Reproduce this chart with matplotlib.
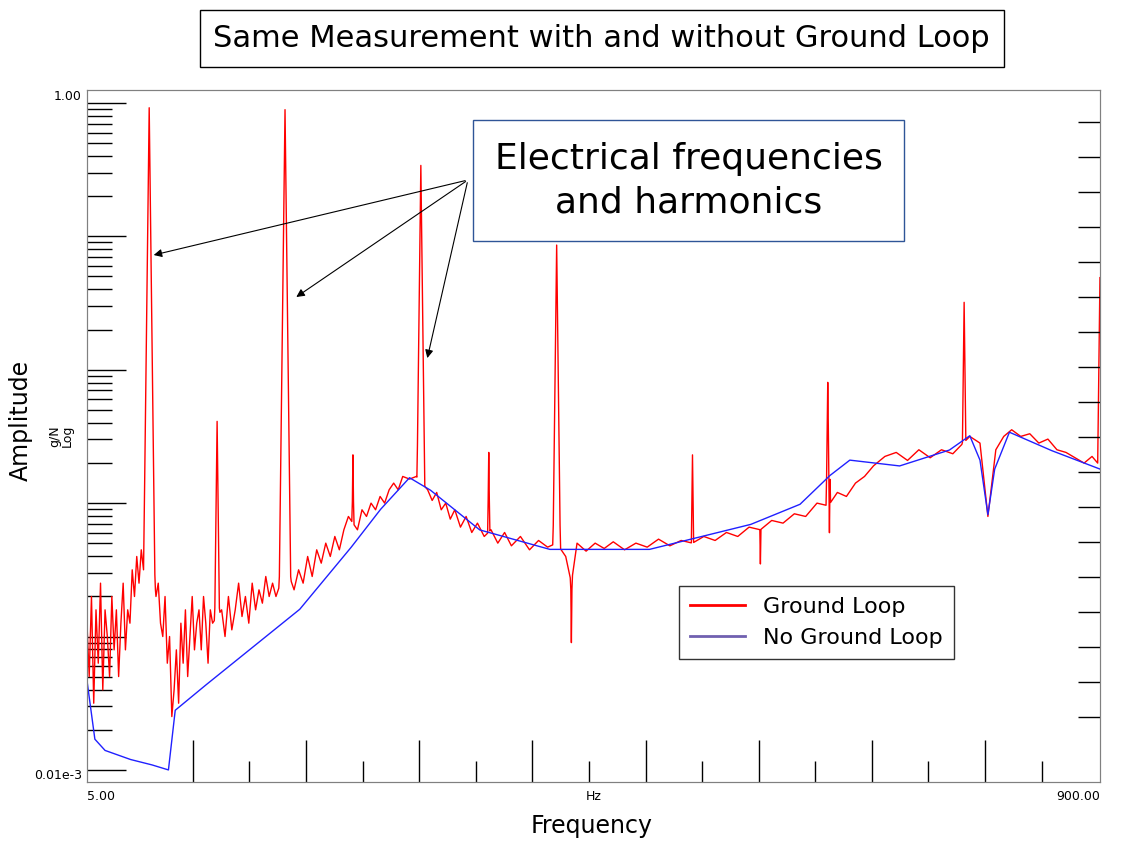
import numpy as np
import matplotlib
matplotlib.use("Agg")
import matplotlib.pyplot as plt
from matplotlib.ticker import NullFormatter, FixedLocator

# --- data (Hz, amplitude g/N) ---
blue_f = [5, 12, 21, 43, 61, 77, 83, 105, 149, 193, 237, 264, 290, 308, 352, 414, 502, 591, 635, 661, 679, 723, 767, 785, 794, 801, 807, 820, 856, 900]
blue_a = [4.7e-5, 1.7e-5, 1.4e-5, 1.2e-5, 1.1e-5, 1.0e-5, 2.8e-5, 4.0e-5, 8.0e-5, 1.6e-4, 4.5e-4, 8.9e-4, 1.55e-3, 1.26e-3, 6.3e-4, 4.5e-4, 4.5e-4, 6.9e-4, 9.8e-4, 1.6e-3, 2.1e-3, 1.9e-3, 2.5e-3, 3.2e-3, 2.1e-3, 8.2e-4, 1.8e-3, 3.4e-3, 2.5e-3, 1.8e-3]

red_f = [5, 7, 9, 11, 13, 15, 17, 19, 21, 23, 25, 27, 29, 31, 33, 35, 37, 39, 41, 43, 45, 47, 49, 51, 53, 55, 57, 64, 66, 68, 70, 72, 74, 76, 78, 80, 82, 84, 86, 88, 90, 92, 94, 96, 98, 100, 102, 104, 106, 108, 110, 112, 114, 116, 124, 127, 130, 133, 136, 139, 142, 145, 148, 151, 154, 157, 160, 163, 166, 169, 172, 176, 184, 188, 192, 196, 200, 204, 208, 212, 216, 220, 224, 228, 232, 236, 244, 248, 252, 256, 260, 264, 268, 272, 276, 280, 284, 290, 296, 306, 310, 314, 318, 322, 326, 330, 335, 340, 345, 350, 356, 362, 368, 374, 380, 388, 396, 404, 412, 420, 428, 433, 438, 446, 454, 462, 470, 480, 490, 500, 510, 520, 530, 540, 550, 560, 570, 580, 590, 600, 610, 620, 630, 640, 650, 660, 668, 676, 684, 692, 700, 710, 720, 730, 740, 750, 760, 770, 778, 785, 794, 801, 808, 815, 822, 830, 838, 846, 854, 862, 870, 878, 886, 893, 900]
red_log = [-3.9, -4.3, -3.7, -4.5, -3.8, -4.2, -3.6, -4.4, -3.8, -4.0,
           -4.3, -3.7, -4.1, -3.8, -4.3, -3.9, -3.6, -4.1, -3.8, -3.9,
           -3.5, -3.7, -3.4, -3.6, -3.35, -3.5, -3.4,
           -3.5, -3.7, -3.6, -3.9, -4.0, -3.7, -4.2, -4.0, -4.6, -4.4,
           -4.1, -4.5, -3.9, -4.2, -3.8, -4.3, -4.0, -3.7, -4.1, -3.9,
           -3.8, -4.1, -3.7, -3.9, -4.2, -3.8, -3.9,
           -3.8, -4.0, -3.7, -3.95, -3.8, -3.6, -3.85, -3.7, -3.9, -3.6,
           -3.8, -3.65, -3.75, -3.55, -3.7, -3.6, -3.7,
           -3.6,
           -3.55, -3.65, -3.5, -3.6, -3.4, -3.55, -3.35, -3.45, -3.3, -3.4, -3.25, -3.35, -3.2, -3.1,
           -3.2, -3.05, -3.1, -3.0, -3.05, -2.95, -3.0, -2.9, -2.85, -2.9, -2.8,
           -2.82, -2.8,
           -2.9, -2.98, -2.92, -3.05, -3.0, -3.12, -3.05,
           -3.18, -3.1, -3.22, -3.15,
           -3.25, -3.2, -3.3, -3.22, -3.32,
           -3.25, -3.35, -3.28, -3.33, -3.3, -3.4,
           -3.6, -3.3,
           -3.36, -3.3, -3.34, -3.29,
           -3.35, -3.3, -3.33, -3.27, -3.32, -3.28, -3.3, -3.25, -3.28, -3.22,
           -3.25, -3.18, -3.2, -3.13, -3.15, -3.08, -3.1, -3.0, -3.02,
           -2.92, -2.95, -2.85, -2.8,
           -2.72, -2.65, -2.62, -2.68, -2.6, -2.66, -2.6, -2.63,
           -2.56, -2.5, -2.55, -3.1, -2.6, -2.5, -2.45, -2.5, -2.48, -2.55,
           -2.52, -2.6, -2.62, -2.66, -2.7, -2.65, -2.72]

peak_f = [60, 120, 180, 240, 300, 360, 420, 540, 600, 660, 780, 900]
peak_a = [0.92, 4.1e-3, 0.89, 2.3e-3, 0.34, 2.4e-3, 0.086, 2.3e-3, 1.0e-3, 0.018, 0.032, 0.049]
dip_f = [433, 600, 661]
dip_a = [9e-5, 3.5e-4, 6.0e-4]

f = np.arange(5, 900.01, 0.5)
blue = 10 ** np.interp(f, blue_f, np.log10(blue_a))
red_l = np.interp(f, red_f, red_log)
for pf, pa in zip(peak_f, peak_a):
    shape = np.log10(pa) - np.abs(f - pf) * 0.7
    red_l = np.maximum(red_l, shape)
for df, da in zip(dip_f, dip_a):
    shape = np.log10(da) + np.abs(f - df) * 0.8
    red_l = np.minimum(red_l, shape)
red = 10 ** red_l

fig = plt.figure(figsize=(11.44, 8.41), dpi=100)
ax = fig.add_axes([0.076, 0.070, 0.8855, 0.823])
ax.plot(f, red, color="#ff0000", lw=1.0, zorder=2)
ax.plot(f, blue, color="#2020ff", lw=1.0, zorder=3)
ax.set_yscale("log")
ax.set_xlim(5, 900)
ax.set_ylim(8.1e-6, 1.25)

ax.yaxis.set_major_locator(FixedLocator([1e-5, 1e-4, 1e-3, 1e-2, 1e-1, 1]))
ax.yaxis.set_minor_locator(FixedLocator([m * 10.0 ** e for e in range(-5, 0) for m in range(2, 10)]))
ax.yaxis.set_major_formatter(NullFormatter())
ax.yaxis.set_minor_formatter(NullFormatter())
ax.tick_params(axis="y", which="major", direction="in", length=28, width=1, left=True, right=False)
ax.tick_params(axis="y", which="minor", direction="in", length=18, width=1, left=True, right=False)

xt_major = [98.5 + 100 * k for k in range(8)]
xt_minor = [48.5 + 100 * k for k in range(1, 9)]
ax.xaxis.set_major_locator(FixedLocator(xt_major))
ax.xaxis.set_minor_locator(FixedLocator(xt_minor))
ax.xaxis.set_major_formatter(NullFormatter())
ax.tick_params(axis="x", which="major", direction="in", length=30, width=1)
ax.tick_params(axis="x", which="minor", direction="in", length=15, width=1)

ax2 = ax.twinx()
ax2.set_ylim(0, 1)
ax2.yaxis.set_major_locator(FixedLocator([(790 - y) / 692.0 for y in range(130, 760, 35)]))
ax2.yaxis.set_major_formatter(NullFormatter())
ax2.tick_params(axis="y", direction="in", length=16, width=1)

for a in (ax, ax2):
    for s in a.spines.values():
        s.set_color("#808080")

fs = 9
ax.text(-0.005, 1.0, "1.00", transform=ax.transAxes, ha="right", va="top", fontsize=fs)
ax.text(-0.005, 0.0, "0.01e-3", transform=ax.transAxes, ha="right", va="bottom", fontsize=fs)
ax.text(0.0, -0.012, "5.00", transform=ax.transAxes, ha="left", va="top", fontsize=fs)
ax.text(1.0, -0.012, "900.00", transform=ax.transAxes, ha="right", va="top", fontsize=fs)
ax.text(0.5, -0.012, "Hz", transform=ax.transAxes, ha="center", va="top", fontsize=fs)
ax.text(-0.032, 0.5, "g/N", transform=ax.transAxes, rotation=90, ha="center", va="center", fontsize=fs)
ax.text(-0.019, 0.5, "Log", transform=ax.transAxes, rotation=90, ha="center", va="center", fontsize=fs)

fig.text(0.018, 0.50, "Amplitude", rotation=90, ha="center", va="center", fontsize=17)
fig.text(0.517, 0.018, "Frequency", ha="center", va="center", fontsize=17)
fig.text(0.526, 0.954, "Same Measurement with and without Ground Loop", ha="center", va="center", fontsize=22,
         bbox=dict(boxstyle="square,pad=0.45", fc="white", ec="black", lw=1))

ann_xy = (0.409, 0.786)
tgt = [(0.132, 0.696), (0.257, 0.645), (0.373, 0.571)]
for tx, ty in tgt:
    fig.add_artist(matplotlib.patches.FancyArrowPatch(ann_xy, (tx, ty), transform=fig.transFigure,
                   arrowstyle="-|>", mutation_scale=12, color="black", lw=0.8))
fig.text(0.602, 0.785, "Electrical frequencies\nand harmonics", ha="center", va="center", fontsize=26,
         linespacing=1.35, bbox=dict(boxstyle="square,pad=0.6", fc="white", ec="#2f5597", lw=1), zorder=5)

leg = ax.legend([plt.Line2D([], [], color="#ff0000", lw=2), plt.Line2D([], [], color="#7060b0", lw=2)],
                ["Ground Loop", "No Ground Loop"], loc="upper left", bbox_to_anchor=(0.573, 0.30),
                fontsize=16, frameon=True, fancybox=False, edgecolor="black", borderpad=0.5, handlelength=2.5)
leg.get_frame().set_linewidth(1)
fig.savefig("out.png", dpi=100)
